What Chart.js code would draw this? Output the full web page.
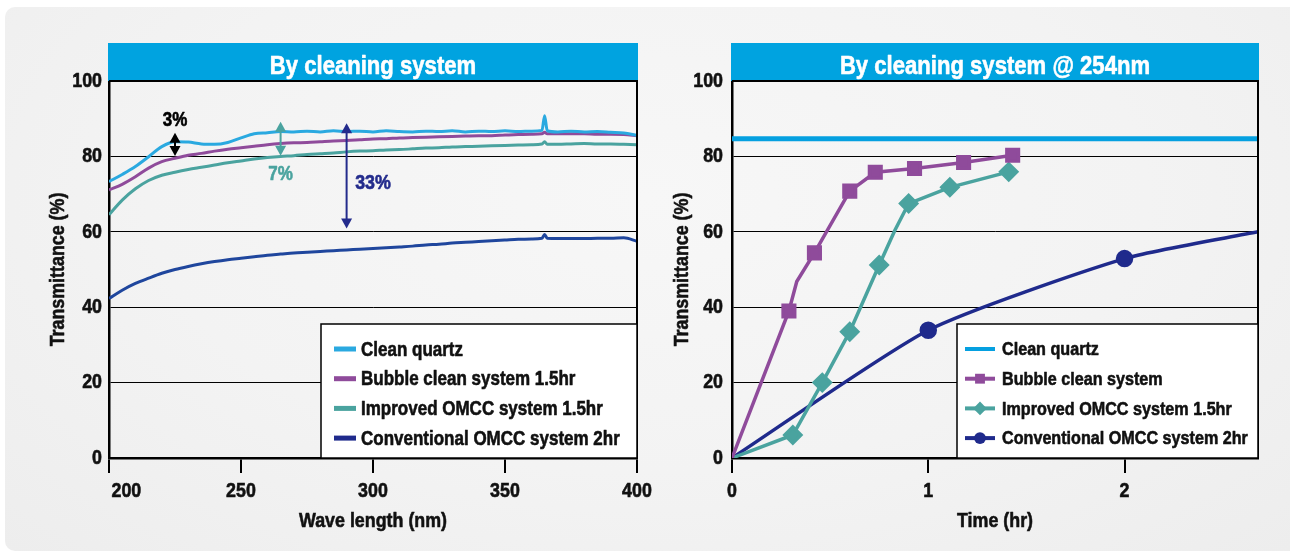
<!DOCTYPE html>
<html><head><meta charset="utf-8">
<script src="https://cdn.jsdelivr.net/npm/chart.js@4.4.1/dist/chart.umd.min.js"></script>
<style>
html,body{margin:0;padding:0;background:#fff;width:1290px;height:556px;overflow:hidden}
#panel{position:absolute;left:5px;top:7px;width:1285px;height:544px;border-radius:10px 0 0 10px;
 background:radial-gradient(ellipse at 50% 35%, #f7f7f7 0%, #f3f3f3 55%, #ededed 100%)}
canvas{position:absolute;top:0}
#c1{left:0}#c2{left:645px}
</style></head><body>
<div id="panel"></div>
<canvas id="c1" width="665" height="556"></canvas>
<canvas id="c2" width="645" height="556"></canvas>
<script>
const FONT = "'Liberation Sans', Arial, sans-serif";
const CONDENSE = 0.85;

// ---------- Left chart: spectra ----------
const wavelengths = [200,205,210,215,220,225,230,235,240,245,250,255,260,265,270,275,280,285,290,295,300,305,310,315,320,325,330,335,340,345,350,355,360,364,365,366,370,375,380,385,390,395,400];
const cleanQuartz = [73.3,75.2,77.3,79.9,82.6,83.9,83.8,83.3,83.2,83.7,84.9,86.0,86.3,86.6,86.5,86.7,86.5,86.8,86.6,86.7,86.5,86.8,86.6,86.5,86.7,86.6,86.8,86.5,86.7,86.6,86.8,86.6,86.7,86.9,90.8,86.8,86.5,86.7,86.5,86.6,86.4,86.2,85.6];
const bubble15 = [71.1,72.6,74.6,76.9,78.6,79.5,80.3,80.8,81.4,81.9,82.3,82.7,83.1,83.4,83.6,83.7,83.9,84.1,84.2,84.4,84.6,84.7,84.9,85.0,85.1,85.2,85.3,85.4,85.5,85.5,85.7,85.8,85.9,86.0,86.4,86.0,86.0,86.0,86.0,85.9,85.9,85.8,85.5];
const improved15 = [64.5,68.4,71.4,73.6,75.0,75.8,76.5,77.1,77.7,78.3,78.8,79.3,79.7,80.0,80.2,80.5,80.7,80.9,81.2,81.4,81.5,81.7,81.8,82.0,82.2,82.3,82.5,82.6,82.7,82.8,82.9,83.0,83.1,83.3,83.9,83.2,83.2,83.3,83.4,83.3,83.3,83.2,83.1];
const conventional2 = [42.3,44.5,46.3,47.7,49.0,50.0,50.8,51.5,52.1,52.6,53.0,53.4,53.8,54.1,54.4,54.6,54.8,55.0,55.2,55.4,55.6,55.8,56.0,56.2,56.5,56.7,57.0,57.2,57.4,57.6,57.8,58.0,58.1,58.3,59.3,58.3,58.2,58.2,58.2,58.3,58.3,58.4,57.5];
const waveTicks = [200,250,300,350,400];
const leftLabels = ['Clean quartz','Bubble clean system 1.5hr','Improved OMCC system 1.5hr','Conventional OMCC system 2hr'];
// difference arrows
const arrowWave  = [225, 265, 290];
const arrowFrom  = [80.1, 80.2, 60.9];
const arrowTo    = [86.3, 89.2, 88.8];
const arrowText  = ['3%', '7%', '33%'];
const arrowTextWave  = [225, 265, 300];
const arrowTextValue = [89.6, 75.2, 72.8];

// ---------- Right chart: time at 254nm ----------
const timeClean = [0, 2.68];
const valClean  = [84.7, 84.7];
const timeBubble = [0, 0.29, 0.33, 0.42, 0.60, 0.73, 0.93, 1.18, 1.43];
const valBubble  = [0, 39.0, 46.8, 54.4, 70.8, 75.8, 76.8, 78.4, 80.3];
const markBubble = [0,1,0,1,1,1,1,1,1];
const timeImproved = [0, 0.31, 0.46, 0.60, 0.75, 0.83, 0.90, 1.11, 1.41];
const valImproved  = [0, 6.1, 20.0, 33.5, 51.2, 60.4, 67.5, 71.8, 75.9];
const markImproved = [0,1,1,1,1,0,1,1,1];
const timeConv = [0, 1.0, 2.0, 2.68];
const valConv  = [0, 33.9, 52.9, 60.0];
const markConv = [0,1,1,0];
const timeTicks = [0,1,2];
const rightLabels = ['Clean quartz','Bubble clean system','Improved OMCC system 1.5hr','Conventional OMCC system 2hr'];
const valueTicks = [0,20,40,60,80,100];

const COL = {cq:'#2aa9e0', cq2:'#05a0e0', pu:'#8f4b9b', te:'#4aa39f', nv:'#1f469d', nv2:'#1f2a8c', bar:'#00a3e0'};

function zip(xs, ys){ return xs.map((x,i)=>({x, y: ys[i]})); }

// condensed, heavy text rendering (Helvetica Condensed Bold look)
function condensedContext(canvas){
  const ctx = canvas.getContext('2d');
  const orig = ctx.fillText;
  const origStroke = ctx.strokeText;
  ctx.fillText = function(text, x, y, maxWidth){
    this.save(); this.translate(x, y); this.scale(CONDENSE, 1);
    const mw = maxWidth === undefined ? undefined : maxWidth / CONDENSE;
    if (mw === undefined) orig.call(this, text, 0, 0); else orig.call(this, text, 0, 0, mw);
    this.strokeStyle = this.fillStyle; this.lineWidth = 0.6; this.lineJoin = 'round'; this.setLineDash([]);
    if (mw === undefined) origStroke.call(this, text, 0, 0); else origStroke.call(this, text, 0, 0, mw);
    this.restore();
  };
  return ctx;
}

function drawMarker(ctx, style, x, y, r){
  ctx.beginPath();
  if (style === 'rect'){ const s = r*Math.SQRT1_2; ctx.rect(x-s, y-s, 2*s, 2*s); }
  else if (style === 'rectRot'){ ctx.moveTo(x-r,y); ctx.lineTo(x,y-r); ctx.lineTo(x+r,y); ctx.lineTo(x,y+r); ctx.closePath(); }
  else if (style === 'circle'){ ctx.arc(x,y,r,0,Math.PI*2); }
  ctx.fill();
}

const framePlugin = {
  id: 'frame',
  afterDraw(chart, args, o){
    const {ctx, chartArea:a} = chart;
    ctx.save();
    ctx.fillStyle = COL.bar;
    ctx.fillRect(a.left-1, o.barTop, a.right-a.left+2, a.top-o.barTop);
    ctx.fillStyle = '#fff';
    ctx.font = 'bold 26px ' + FONT;
    ctx.textAlign = 'center'; ctx.textBaseline = 'alphabetic';
    ctx.fillText(o.title, (a.left+a.right)/2, 74);
    ctx.strokeStyle = '#000'; ctx.lineWidth = 2;
    ctx.beginPath(); ctx.moveTo(a.left, a.top); ctx.lineTo(a.right, a.top); ctx.lineTo(a.right, a.bottom+1); ctx.stroke();
    ctx.restore();
  }
};

const legendPlugin = {
  id: 'boxLegend',
  afterDraw(chart, args, o){
    const {ctx, chartArea:a} = chart;
    const x0 = a.right - o.width, y0 = a.bottom - o.height;
    ctx.save();
    ctx.fillStyle = '#fff'; ctx.fillRect(x0, y0, o.width, o.height);
    ctx.strokeStyle = '#000'; ctx.lineWidth = 1.5; ctx.strokeRect(x0, y0, o.width, o.height);
    ctx.font = 'bold ' + o.fontSize + 'px ' + FONT;
    ctx.textAlign = 'left'; ctx.textBaseline = 'middle';
    chart.data.datasets.forEach((ds, i) => {
      const yy = y0 + o.firstRow + i*o.rowGap;
      ctx.strokeStyle = ds.legendColor || ds.borderColor; ctx.lineWidth = o.sampleWidth;
      ctx.beginPath(); ctx.moveTo(x0+o.sampleLeft, yy); ctx.lineTo(x0+o.sampleLeft+o.sampleLen, yy); ctx.stroke();
      if (o.markers && ds.pointStyle && ds.markerR){
        ctx.fillStyle = ds.legendColor || ds.borderColor;
        drawMarker(ctx, ds.pointStyle, x0+o.sampleLeft+o.sampleLen/2, yy, ds.markerR*0.85);
      }
      ctx.fillStyle = '#111';
      ctx.fillText(ds.label, x0+o.textLeft, yy+1);
    });
    ctx.restore();
  }
};

function arrowHead(ctx, x, y, dir){
  ctx.beginPath(); ctx.moveTo(x, y); ctx.lineTo(x-5.5, y-dir*10); ctx.lineTo(x+5.5, y-dir*10); ctx.closePath(); ctx.fill();
}
const arrowPlugin = {
  id: 'diffArrows',
  afterDatasetsDraw(chart, args, o){
    const {ctx, scales:{x, y}} = chart;
    ctx.save();
    arrowWave.forEach((w, i) => {
      const px = x.getPixelForValue(w), p1 = y.getPixelForValue(arrowFrom[i]), p2 = y.getPixelForValue(arrowTo[i]);
      ctx.strokeStyle = o.colors[i]; ctx.fillStyle = o.colors[i]; ctx.lineWidth = 2;
      ctx.beginPath(); ctx.moveTo(px, p1-6); ctx.lineTo(px, p2+6); ctx.stroke();
      arrowHead(ctx, px, p2, -1); arrowHead(ctx, px, p1, 1);
      ctx.font = 'bold ' + o.sizes[i] + 'px ' + FONT;
      ctx.textAlign = 'center'; ctx.textBaseline = 'middle';
      ctx.fillText(arrowText[i], x.getPixelForValue(arrowTextWave[i]), y.getPixelForValue(arrowTextValue[i]));
    });
    ctx.restore();
  }
};

const tickFont = {family: FONT, size: 21, weight: 'bold'};
const titleFont = {family: FONT, size: 21, weight: 'bold'};

function yAxis(width, labelPad, titlePad){
  return {
    min: 0, max: 100,
    afterBuildTicks(s){ s.ticks = valueTicks.map(v => ({value: v})); },
    ticks: {color:'#111', font: tickFont, padding: labelPad},
    grid: {drawTicks:false, color:'#000', lineWidth: c => c.tick && c.tick.value === 100 ? 2 : (c.tick && c.tick.value === 0 ? 0 : 1)},
    border: {color:'#000', width: 2.5},
    title: {display:true, text:'Transmittance (%)', color:'#111', font: titleFont, padding:{top:titlePad, bottom:0}},
    afterFit(s){ s.width = width; s.paddingTop = 0; s.paddingBottom = 0; }
  };
}
function xAxis(min, max, tickValues, title, cb){
  return {type:'linear', min, max,
    afterBuildTicks(s){ s.ticks = tickValues.map(v => ({value: v})); },
    ticks:{color:'#111', font: tickFont, padding:6, maxRotation:0, autoSkip:false, callback: cb},
    grid:{drawOnChartArea:false, drawTicks:true, tickLength:15, color:'#000', lineWidth:2},
    border:{color:'#000', width:2.5},
    title:{display:true, text:title, color:'#111', font: titleFont, padding:{top:0, bottom:22}},
    afterFit(s){ s.height = 98; s.paddingLeft = 0; s.paddingRight = 0; }
  };
}

Chart.defaults.animation = false;

new Chart(condensedContext(document.getElementById('c1')), {
  type: 'line',
  data: { datasets: [
    {label:leftLabels[0], data: zip(wavelengths, cleanQuartz), borderColor: COL.cq, borderWidth: 3},
    {label:leftLabels[1], data: zip(wavelengths, bubble15), borderColor: COL.pu, borderWidth: 3},
    {label:leftLabels[2], data: zip(wavelengths, improved15), borderColor: COL.te, borderWidth: 3},
    {label:leftLabels[3], data: zip(wavelengths, conventional2), borderColor: COL.nv, legendColor: COL.nv2, borderWidth: 3}
  ]},
  options: {
    responsive:false, devicePixelRatio:1,
    layout:{padding:{top:81, right:28, left:0, bottom:0}},
    elements:{point:{radius:0}, line:{cubicInterpolationMode:'monotone'}},
    plugins:{legend:{display:false}, tooltip:{enabled:false},
      frame:{barTop:43, title:'By cleaning system'},
      boxLegend:{width:316, height:134, firstRow:25, rowGap:29.7, sampleLeft:13, sampleLen:22, sampleWidth:5, textLeft:40, fontSize:20, markers:false},
      diffArrows:{colors:['#000', COL.te, '#232b8c'], sizes:[20,20,21]}
    },
    scales:{
      x: xAxis(200, 400, waveTicks, 'Wave length (nm)', v => v === 200 ? '       ' + v : String(v)),
      y: yAxis(109, 7, 46)
    }
  },
  plugins:[framePlugin, arrowPlugin, legendPlugin]
});

new Chart(condensedContext(document.getElementById('c2')), {
  type: 'line',
  data: { datasets: [
    {label:rightLabels[0], data: zip(timeClean, valClean), borderColor: COL.cq2, borderWidth: 5, pointRadius:0},
    {label:rightLabels[1], data: zip(timeBubble, valBubble), borderColor: COL.pu, backgroundColor: COL.pu, borderWidth: 3.5,
      pointStyle:'rect', markerR: 8.2, pointRadius: c => markBubble[c.dataIndex] ? 8.2 : 0},
    {label:rightLabels[2], data: zip(timeImproved, valImproved), borderColor: COL.te, backgroundColor: COL.te, borderWidth: 3.5,
      pointStyle:'rectRot', markerR: 8, pointRadius: c => markImproved[c.dataIndex] ? 8 : 0},
    {label:rightLabels[3], data: zip(timeConv, valConv), borderColor: COL.nv2, backgroundColor: COL.nv2, borderWidth: 3.5,
      pointStyle:'circle', markerR: 7, tension: 0.2, pointRadius: c => markConv[c.dataIndex] ? 7 : 0}
  ]},
  options: {
    responsive:false, devicePixelRatio:1,
    layout:{padding:{top:81, right:32, left:0, bottom:0}},
    elements:{point:{borderWidth:0}},
    plugins:{legend:{display:false}, tooltip:{enabled:false},
      frame:{barTop:43, title:'By cleaning system @ 254nm'},
      boxLegend:{width:301, height:134, firstRow:25, rowGap:29.7, sampleLeft:8, sampleLen:30, sampleWidth:4, textLeft:45, fontSize:19, markers:true}
    },
    scales:{
      x: xAxis(0, 2.68, timeTicks, 'Time (hr)', v => String(v)),
      y: yAxis(87, 9, 25)
    }
  },
  plugins:[framePlugin, legendPlugin]
});
</script>
</body></html>
